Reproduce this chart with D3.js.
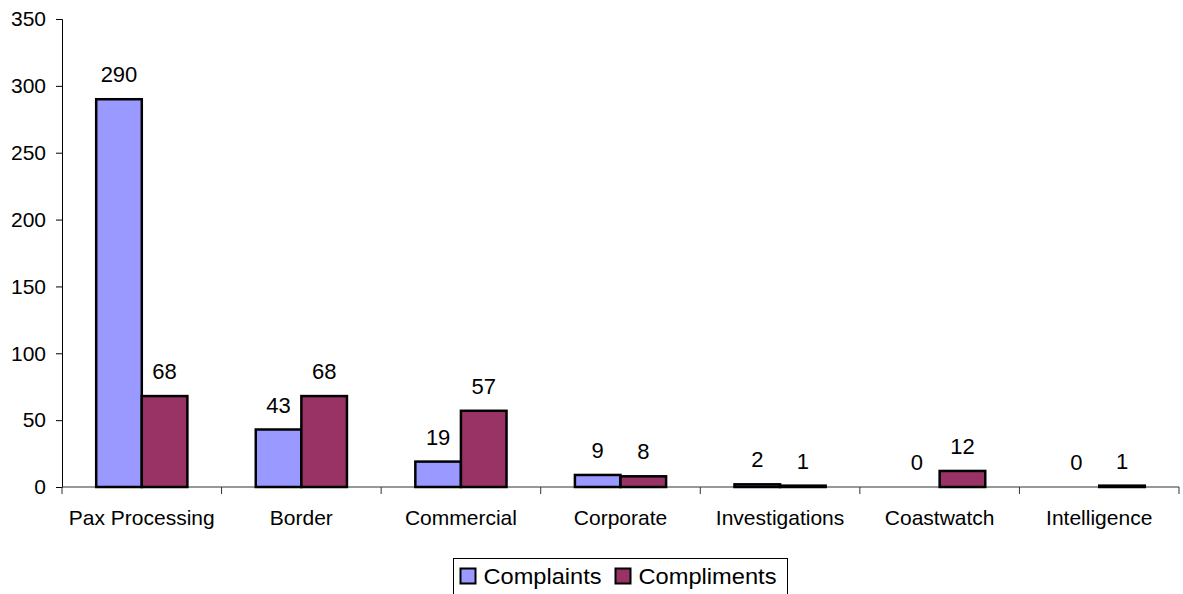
<!DOCTYPE html>
<html>
<head>
<meta charset="utf-8">
<script src="https://cdn.jsdelivr.net/npm/d3@7"></script>
<style>
  body { margin: 0; background: #fff; }
  svg text { font-family: "Liberation Sans", Arial, sans-serif; fill: #000; }
</style>
</head>
<body>
<div id="chart"></div>
<script>
const categories = ['Pax Processing', 'Border', 'Commercial', 'Corporate', 'Investigations', 'Coastwatch', 'Intelligence'];
const seriesNames = ['Complaints', 'Compliments'];
const complaints = [290, 43, 19, 9, 2, 0, 0];
const compliments = [68, 68, 57, 8, 1, 12, 1];
const yTicks = [0, 50, 100, 150, 200, 250, 300, 350];
const colors = ['#9999ff', '#993366'];

let width = 1183, height = 594;
let plotLeft = 62, plotRight = 1179, plotTop = 19, plotBottom = 487;
let fontSize = 21;

let svg = d3.select('#chart').append('svg')
    .attr('width', width)
    .attr('height', height);

let x = d3.scaleBand().domain(categories).range([plotLeft, plotRight]).padding(0);
// excel-style gap width 150%: two bars + 1.5 bar of gap per category
let barW = x.bandwidth() / 3.5;
let xSub = d3.scaleBand().domain(seriesNames)
    .range([barW * 0.75, barW * 2.75]).padding(0);

let y = d3.scaleLinear().domain([0, 350]).range([plotBottom, plotTop]);

// y axis
let yAxis = svg.append('g')
    .attr('transform', 'translate(' + plotLeft + ',0)')
    .call(d3.axisLeft(y).tickValues(yTicks).tickSize(6).tickPadding(10));
yAxis.select('.domain').attr('stroke', '#000').attr('stroke-width', 1);
yAxis.selectAll('.tick line').attr('stroke', '#000');
yAxis.selectAll('text').style('font-size', fontSize + 'px')
    .style('font-family', '"Liberation Sans", Arial, sans-serif');

// x axis: ticks at category boundaries
let xAxis = svg.append('g')
    .attr('transform', 'translate(0,' + plotBottom + ')');
xAxis.append('line')
    .attr('x1', plotLeft).attr('x2', plotRight)
    .attr('stroke', '#333').attr('stroke-width', 1);
let bounds = categories.map(c => x(c)).concat([x(categories[categories.length - 1]) + x.bandwidth()]);
xAxis.selectAll('line.tk').data(bounds).join('line').classed('tk', true)
    .attr('x1', d => d).attr('x2', d => d)
    .attr('y1', 0).attr('y2', 7)
    .attr('stroke', '#333');
xAxis.selectAll('text').data(categories).join('text')
    .attr('x', d => x(d) + x.bandwidth() / 2)
    .attr('y', 38)
    .attr('text-anchor', 'middle')
    .style('font-size', fontSize + 'px')
    .text(d => d);

// bars
let series = [complaints, compliments];
series.forEach(function(vals, s) {
    let g = svg.append('g');
    categories.forEach(function(c, i) {
        let v = vals[i];
        let bx = x(c) + xSub(seriesNames[s]);
        if (v > 0) {
            g.append('rect')
                .attr('x', bx)
                .attr('y', y(v))
                .attr('width', xSub.bandwidth())
                .attr('height', y(0) - y(v))
                .attr('fill', colors[s])
                .attr('stroke', '#000')
                .attr('stroke-width', 2.5);
        }
        g.append('text')
            .attr('x', bx + xSub.bandwidth() / 2)
            .attr('y', y(v) - 17)
            .attr('text-anchor', 'middle')
            .style('font-size', '22px')
            .text(v);
    });
});

// legend (text is a bit wider in the original, stretch to fit)
let legend = svg.append('g').attr('transform', 'translate(453.5,558.5)');
legend.append('rect')
    .attr('width', 334).attr('height', 40)
    .attr('fill', '#fff').attr('stroke', '#000').attr('stroke-width', 1);
let legendX = [7, 162];
let legendLen = [118, 138];
seriesNames.forEach(function(name, i) {
    legend.append('rect')
        .attr('x', legendX[i]).attr('y', 10)
        .attr('width', 15).attr('height', 15)
        .attr('fill', colors[i]).attr('stroke', '#000').attr('stroke-width', 2);
    legend.append('text')
        .attr('x', legendX[i] + 23).attr('y', 25)
        .attr('textLength', legendLen[i])
        .attr('lengthAdjust', 'spacingAndGlyphs')
        .style('font-size', '22px')
        .text(name);
});
</script>
</body>
</html>
